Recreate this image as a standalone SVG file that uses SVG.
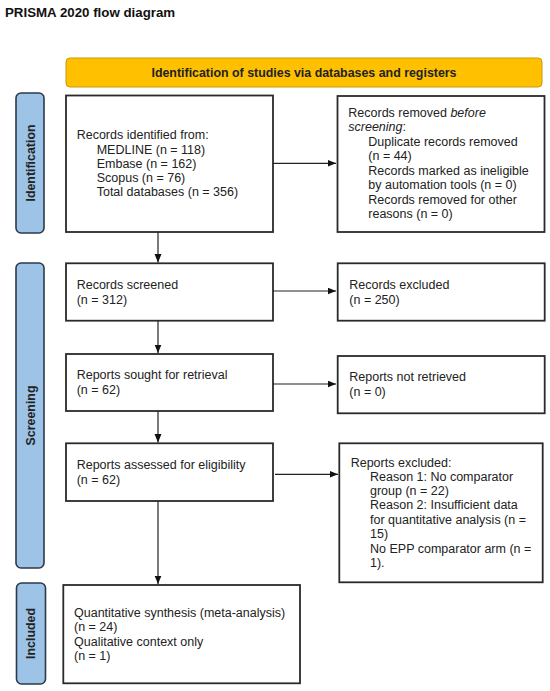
<svg xmlns="http://www.w3.org/2000/svg" width="550" height="691" viewBox="0 0 550 691">
<style>
.t{font-family:"Liberation Sans",Arial,sans-serif;font-size:12.5px;fill:#222}
.box{fill:#fff;stroke:#2a2a2a;stroke-width:1.8}
.side{fill:#9DC3E6;stroke:#2c3a4a;stroke-width:1.6}
.sl{font-family:"Liberation Sans",Arial,sans-serif;font-size:12.4px;font-weight:bold;fill:#222;text-anchor:middle}
.c{fill:none;stroke:#222;stroke-width:1.2}
</style>
<defs>
<marker id="ah" markerWidth="9" markerHeight="8" refX="8.5" refY="3.5" orient="auto" markerUnits="userSpaceOnUse">
<path d="M0,0 L8.5,3.5 L0,7 z" fill="#111"/>
</marker>
</defs>
<rect width="550" height="691" fill="#fff"/>
<text id="title" x="5" y="16.5" style="font-family:'Liberation Sans',Arial,sans-serif;font-size:13.3px;font-weight:bold;fill:#111">PRISMA 2020 flow diagram</text>

<g id="banner">
<rect x="66" y="58" width="476" height="29" rx="4" fill="#FFC000" stroke="#C99A06" stroke-width="1"/>
<text x="304" y="77" class="sl" style="font-size:12.4px">Identification of studies via databases and registers</text>
</g>

<g id="side-identification">
<rect class="side" x="16" y="93" width="28" height="140" rx="5"/>
<text class="sl" transform="translate(34.5,163) rotate(-90)" x="0" y="0">Identification</text>
</g>
<g id="side-screening">
<rect class="side" x="16" y="263" width="28" height="305" rx="5"/>
<text class="sl" transform="translate(34.5,415.5) rotate(-90)" x="0" y="0">Screening</text>
</g>
<g id="side-included">
<rect class="side" x="16.5" y="583" width="29" height="101" rx="5"/>
<text class="sl" transform="translate(35,633.5) rotate(-90)" x="0" y="0">Included</text>
</g>

<g id="identified">
<rect class="box" x="66" y="95.5" width="207" height="136.5"/>
<text class="t" x="76.7" y="139.3">Records identified from:</text>
<text class="t" x="96.7" y="153.8">MEDLINE (n = 118)</text>
<text class="t" x="96.7" y="168">Embase (n = 162)</text>
<text class="t" x="96.7" y="182">Scopus (n = 76)</text>
<text class="t" x="96.7" y="196">Total databases (n = 356)</text>
</g>

<g id="removed">
<rect class="box" x="337.5" y="96" width="207" height="136"/>
<text class="t" x="348.3" y="117">Records removed <tspan font-style="italic">before</tspan></text>
<text class="t" x="348.3" y="131.3"><tspan font-style="italic">screening</tspan>:</text>
<text class="t" x="368.3" y="146">Duplicate records removed</text>
<text class="t" x="368.3" y="160.3">(n = 44)</text>
<text class="t" x="368.3" y="175">Records marked as ineligible</text>
<text class="t" x="368.3" y="189.3">by automation tools (n = 0)</text>
<text class="t" x="368.3" y="203.5">Records removed for other</text>
<text class="t" x="368.3" y="217.8">reasons (n = 0)</text>
</g>

<g id="screened">
<rect class="box" x="66" y="263.3" width="207" height="57.4"/>
<text class="t" x="76.7" y="289">Records screened</text>
<text class="t" x="76.7" y="304">(n = 312)</text>
</g>

<g id="excluded">
<rect class="box" x="337.7" y="263.3" width="207" height="57.4"/>
<text class="t" x="349.3" y="289">Records excluded</text>
<text class="t" x="349.3" y="304">(n = 250)</text>
</g>

<g id="sought">
<rect class="box" x="66" y="354" width="207" height="57"/>
<text class="t" x="76.7" y="379.3">Reports sought for retrieval</text>
<text class="t" x="76.7" y="394.3">(n = 62)</text>
</g>

<g id="notretrieved">
<rect class="box" x="337.7" y="356" width="207" height="57.3"/>
<text class="t" x="349.3" y="381">Reports not retrieved</text>
<text class="t" x="349.3" y="396">(n = 0)</text>
</g>

<g id="assessed">
<rect class="box" x="66" y="443.3" width="207" height="57.7"/>
<text class="t" x="76.7" y="469">Reports assessed for eligibility</text>
<text class="t" x="76.7" y="484">(n = 62)</text>
</g>

<g id="reportsexcluded">
<rect class="box" x="339.3" y="443.3" width="203.4" height="139"/>
<text class="t" x="350.7" y="466.7">Reports excluded:</text>
<text class="t" x="370" y="480.8">Reason 1: No comparator</text>
<text class="t" x="370" y="495">group (n = 22)</text>
<text class="t" x="370" y="509.4">Reason 2: Insufficient data</text>
<text class="t" x="370" y="523.8">for quantitative analysis (n =</text>
<text class="t" x="370" y="538.2">15)</text>
<text class="t" x="370" y="552.6">No EPP comparator arm (n =</text>
<text class="t" x="370" y="567">1).</text>
</g>

<g id="included">
<rect class="box" x="63.3" y="585" width="236.7" height="98.3"/>
<text class="t" x="74" y="616.7">Quantitative synthesis (meta-analysis)</text>
<text class="t" x="74" y="631">(n = 24)</text>
<text class="t" x="74" y="645.7">Qualitative context only</text>
<text class="t" x="74" y="660">(n = 1)</text>
</g>

<g id="connectors">
<line class="c" x1="273" y1="163.3" x2="336" y2="163.3" marker-end="url(#ah)"/>
<line class="c" x1="158" y1="232" x2="158" y2="262.5" marker-end="url(#ah)"/>
<line class="c" x1="273" y1="291" x2="336" y2="291" marker-end="url(#ah)"/>
<line class="c" x1="158" y1="320.7" x2="158" y2="353" marker-end="url(#ah)"/>
<line class="c" x1="273" y1="384" x2="336" y2="384" marker-end="url(#ah)"/>
<line class="c" x1="158" y1="411" x2="158" y2="442.5" marker-end="url(#ah)"/>
<line class="c" x1="275" y1="474.3" x2="338" y2="474.3" marker-end="url(#ah)"/>
<line class="c" x1="158" y1="501" x2="158" y2="584" marker-end="url(#ah)"/>
</g>
</svg>
